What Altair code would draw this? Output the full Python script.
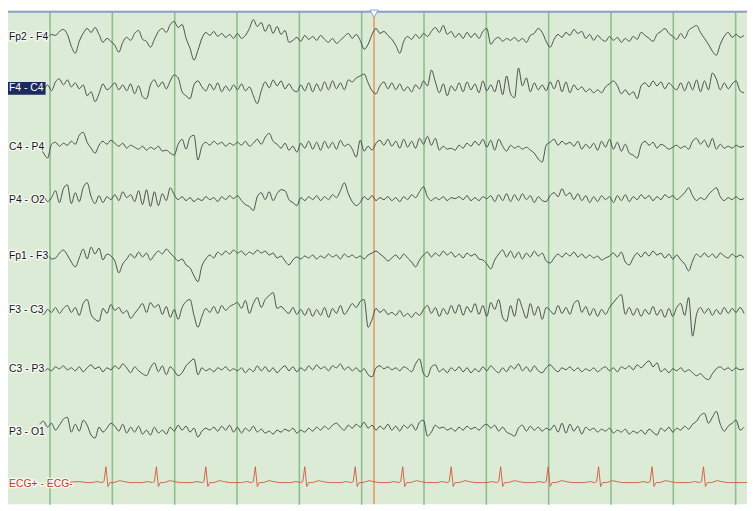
import altair as alt
import pandas as pd

# ---------------- data ----------------
channels = ["Fp2 - F4", "F4 - C4", "C4 - P4", "P4 - O2",
            "Fp1 - F3", "F3 - C3", "C3 - P3", "P3 - O1"]
ecg_label = "ECG+ - ECG-"

sample_start = 40
sample_step = 4

fp2_f4 = [0,2,-1,2,1,5,7,2,-10,-17,
          -5,3,8,4,9,2,-6,-2,-5,-9,
          -16,-6,-1,-4,3,6,-3,-5,-11,-3,
          5,8,4,12,15,9,12,-2,-12,-24,
          -14,-2,4,1,5,0,3,-1,2,-2,
          3,-2,1,8,17,10,14,5,12,3,
          10,2,6,-6,-4,-1,-5,1,-3,0,
          -4,1,-3,-6,-2,-7,-4,0,3,-2,
          2,-4,-13,-8,2,8,3,5,1,-3,
          -9,-17,-5,0,-3,2,-2,3,0,5,
          9,4,11,2,5,-1,3,-2,4,-1,
          3,-2,5,8,-8,-3,-1,-5,-2,-4,
          -1,-5,-2,-6,1,3,8,4,-5,-11,
          -3,2,-1,4,1,7,3,5,-2,2,
          -4,1,-3,-5,0,-4,-1,-6,-2,-5,
          0,-3,4,1,-2,-5,2,5,8,3,
          0,-3,3,-2,6,9,11,4,-2,-8,
          -15,-19,-8,0,4,-1,2,-1,1]

f4_c4 = [2,-1,3,-3,6,9,3,8,1,5,
         -1,3,-8,-4,-14,-6,4,-2,1,5,
         -2,3,-3,4,-6,2,-9,-11,3,8,
         1,6,-1,7,13,10,-4,-8,-11,3,
         7,1,-3,4,-2,5,-4,2,-3,3,
         -2,4,-3,1,-8,-16,-3,6,0,8,
         2,7,-1,4,-2,-4,3,-3,5,-4,
         4,-3,6,-2,7,-1,5,-2,8,6,
         10,12,14,5,-3,-6,2,6,-1,5,
         -2,4,-3,1,-4,3,-1,7,2,18,
         6,-5,4,-8,2,-3,5,-4,6,-2,
         4,-5,7,-3,3,-4,8,-7,12,-6,
         -10,20,2,10,-4,5,-2,3,-3,6,
         -1,8,-4,6,-5,3,-2,1,-4,-1,
         -5,-2,-5,1,4,7,2,-6,-2,-7,
         -4,-11,2,5,1,7,2,6,-1,5,
         1,-2,5,-3,6,-2,8,-4,7,-2,
         15,9,-2,5,-1,4,7,-3,-5]

c4_p4 = [2,-6,-11,3,5,1,4,2,6,3,
         12,15,5,-1,-6,2,6,3,7,4,
         1,4,-1,2,0,-2,1,-3,0,-2,
         1,-4,-3,-6,-8,3,8,-2,10,12,
         -13,1,5,2,6,3,5,1,4,2,
         5,2,6,1,4,8,3,10,14,6,
         3,-1,4,-3,1,-5,4,-1,6,-2,
         5,-3,6,-1,5,-2,7,1,3,-2,
         -10,7,-4,1,-3,4,7,2,8,1,
         6,-1,8,0,6,-1,9,3,11,2,
         9,-3,1,-2,-1,-3,2,-1,4,1,
         6,2,8,0,7,-3,8,1,-4,2,
         -1,1,-2,0,-3,-6,-12,-15,2,5,
         8,2,6,3,5,1,6,-2,3,-1,
         4,-3,6,0,8,-2,5,-4,3,-6,
         -8,-11,2,6,2,5,-1,3,1,-2,
         0,2,-1,1,-2,6,9,3,7,0,
         9,-2,3,-1,1,-1,2,0,1]

p4_o2 = [-1,2,-3,1,8,-4,10,14,-5,6,
         -3,11,16,2,-5,3,-4,2,-1,4,
         -2,7,1,4,-3,8,-6,9,-8,7,
         -7,5,-2,11,4,-1,2,-2,1,-3,
         0,-2,2,-1,1,-3,2,-1,3,0,
         3,-2,-6,-8,-12,2,6,-1,7,-2,
         5,9,8,-1,-4,-7,1,-2,2,-1,
         3,-2,2,-1,4,1,8,16,5,-3,
         -7,-4,2,-1,3,-2,1,-1,2,-2,
         1,-3,2,-1,4,1,7,12,2,-2,
         1,-1,2,-2,1,0,2,-1,3,-2,
         1,-2,2,0,3,-3,4,-2,5,-3,
         4,-2,5,-1,3,-4,2,-2,-3,3,
         6,2,10,3,6,-1,5,-2,3,-4,
         2,-3,3,-1,2,-4,3,-2,4,-3,
         2,-1,4,0,3,-2,2,-1,4,1,
         3,-1,2,6,11,3,-2,1,-1,4,
         8,11,2,-2,1,-1,2,-1,0]

fp1_f3 = [2,-1,1,-3,-2,3,6,1,-6,-11,
          -2,7,-3,9,2,8,-4,2,0,-5,
          -17,-8,-3,2,-2,4,-1,3,-4,1,
          5,2,7,3,-1,-5,-3,-9,-12,-20,
          -26,-10,-3,1,-2,4,1,5,2,6,
          3,5,1,4,2,6,3,5,1,3,
          -2,0,-5,-9,-4,-1,-3,0,-2,1,
          -3,0,-2,2,-1,1,-3,2,-1,1,
          -2,0,-3,1,3,5,2,-1,-5,-2,
          1,-3,2,-2,-6,-11,-4,1,4,-1,
          3,0,5,1,4,-1,2,-2,3,0,
          2,-3,-4,-8,-13,-4,2,6,-1,5,
          -2,4,-3,3,-1,5,0,3,-5,-7,
          -2,2,-1,3,0,4,-1,2,-2,1,
          -2,0,-4,-2,0,3,-1,4,-6,-9,
          -2,3,-1,4,0,5,1,3,-2,2,
          -3,1,-4,-8,-15,-5,2,-1,3,-1,
          2,-2,3,0,-2,2,-1,1,-2]

f3_c3 = [1,-3,2,-1,4,-2,3,6,-1,4,
         -4,8,12,-3,-8,-10,3,-2,7,1,
         4,-2,1,-7,-2,3,8,-1,9,4,
         7,-3,5,-6,2,-8,4,10,12,-4,
         -16,-5,3,-1,5,-2,6,1,5,7,
         9,3,11,-2,8,14,4,12,16,19,
         3,5,1,-2,4,-3,2,-4,3,-5,
         2,-4,4,-6,3,-2,6,-3,2,8,
         4,10,12,-16,-8,3,-1,2,-3,-1,
         -4,1,-5,-2,-6,-1,-4,2,6,-2,
         4,-5,3,-3,6,-2,7,-4,5,-1,
         8,-3,6,-5,9,2,12,-6,-10,6,
         -5,13,3,-7,8,-4,5,-8,4,1,
         -3,6,-2,4,-3,8,11,-1,5,-4,
         3,-5,2,-3,4,9,14,17,-3,4,
         -4,3,-5,2,-3,5,-4,2,-6,3,
         -5,4,8,-4,14,-25,-3,4,-2,3,
         -4,2,-3,4,-2,3,-1,4,-2]

c3_p3 = [0,-2,1,-1,3,1,4,0,2,-1,
         3,-2,2,5,1,3,-2,2,0,4,
         1,6,2,-3,3,-1,-4,-6,2,7,
         -2,4,-5,3,-1,-6,-3,4,8,11,
         -5,2,-1,1,-2,2,0,3,-1,1,
         -1,2,-3,1,-2,4,-1,3,-2,2,
         -3,1,4,-1,3,-2,2,-1,4,0,
         5,1,3,-1,4,2,6,0,3,-1,
         2,-2,1,-5,-7,2,4,1,3,0,
         2,-1,3,1,-2,6,11,-4,-7,3,
         5,-2,1,-3,2,-1,3,-2,2,-3,
         1,-2,3,-1,4,0,-3,2,-2,4,
         1,6,-1,3,-2,4,-1,-3,2,5,
         1,-2,2,0,3,-1,2,-2,1,-1,
         2,-2,1,3,-1,2,-2,3,1,4,
         0,5,2,6,9,3,7,-2,1,-3,
         1,-1,2,-2,0,-3,-6,-4,-8,-10,
         -4,1,3,0,2,-1,2,0,1]

p3_o1 = [5,8,2,6,-1,4,10,12,-3,5,
         -2,9,4,-6,-9,2,-3,1,6,3,
         -2,5,-4,2,-3,3,-5,-1,-6,2,
         -4,-1,-5,2,-2,4,-1,3,-3,1,
         -8,-2,1,-1,2,-2,3,-1,4,-3,
         2,-4,1,-2,3,-3,0,-4,-2,-5,
         -1,-3,0,-2,1,-4,-1,-3,1,-2,
         2,-1,3,0,4,6,2,-1,4,1,
         5,2,7,1,4,-1,3,0,5,-1,
         3,-2,4,1,5,-1,7,9,-7,-3,
         4,1,2,-1,1,-2,2,-1,3,0,
         2,-1,3,5,1,4,-2,2,-3,-5,
         -7,1,4,-2,3,-1,2,-2,1,-1,
         4,-3,6,-4,5,-2,3,-5,2,-1,
         1,-3,0,-2,1,-4,-1,-3,0,-5,
         -2,-4,-1,-5,0,-3,-6,1,-2,2,
         -3,1,-1,3,0,5,8,14,16,6,
         12,18,5,-2,3,6,9,-1,2]

ecg_start, ecg_end = 66, 755
ecg_beats = [107, 158, 208, 258, 308, 359, 407, 456, 506, 554, 605, 659, 711]
ecg_shape_dx = [-14, -9, -4, -2, 0, 2, 4, 8, 14, 18, 24]
ecg_shape_amp = [0, 1, 0, 1, 16, -4, 0, 0, 2, 1, 0]

second_marks = [50, 113, 176, 239, 302, 365, 428, 491, 554, 617, 680, 743]
cursor_x = 378

# ---------------- layout / style ----------------
traces = [fp2_f4, f4_c4, c4_p4, p4_o2, fp1_f3, f3_c3, c3_p3, p3_o1]
baselines = [34, 86, 146, 198, 256, 312, 371, 431]
ecg_base = 485
label_y = [35, 86, 146, 199, 256, 311, 370, 434]

rows = []
for name, vals, base in zip(channels, traces, baselines):
    for i, v in enumerate(vals):
        rows.append({"channel": name, "x": sample_start + i * sample_step, "y": base - v})
eeg = pd.DataFrame(rows)

ecg_rows = [{"x": ecg_start, "y": ecg_base}, {"x": 80, "y": ecg_base - 1}, {"x": 88, "y": ecg_base}]
for b in ecg_beats:
    for dx, a in zip(ecg_shape_dx, ecg_shape_amp):
        ecg_rows.append({"x": b + dx, "y": ecg_base - a})
ecg_rows.append({"x": ecg_end, "y": ecg_base})
ecg = pd.DataFrame(ecg_rows)

labels = pd.DataFrame({"label": channels + [ecg_label],
                       "x": [9] * 9,
                       "y": label_y + [486],
                       "color": ["#141414"] * 8 + ["#c8321e"]})
labels.loc[1, "color"] = "#ffffff"

X = alt.X("x:Q", scale=alt.Scale(domain=[8, 755], nice=False, zero=False),
          axis=alt.Axis(values=second_marks, grid=True, labels=False, ticks=False,
                        domain=False, title=None, gridColor="#8cbf8c", gridWidth=1.6,
                        gridOpacity=1))
Y = alt.Y("y:Q", scale=alt.Scale(domain=[8, 507], nice=False, zero=False, reverse=True),
          axis=None)

eeg_layer = alt.Chart(eeg).mark_line(color="#3c3c3c", strokeWidth=0.9,
                                     interpolate="monotone").encode(
    x=X, y=Y, detail="channel:N", order="x:Q")

ecg_layer = alt.Chart(ecg).mark_line(color="#d0583c", strokeWidth=0.9).encode(
    x=X, y=Y, order="x:Q")

cursor = alt.Chart(pd.DataFrame({"x": [cursor_x]})).mark_rule(
    color="#e8986c", strokeWidth=1.6).encode(x=X)

top_border = alt.Chart(pd.DataFrame({"y": [9]})).mark_rule(
    color="#8f9ccc", strokeWidth=2).encode(y=Y)

notch = alt.Chart(pd.DataFrame({"x": [cursor_x], "y": [11]})).mark_point(
    shape="triangle-down", size=70, filled=True, fill="#ffffff",
    stroke="#8f9ccc", strokeWidth=1, opacity=1).encode(x=X, y=Y)

sel_box = alt.Chart(pd.DataFrame({"x": [8], "x2": [46], "y": [80], "y2": [93]})).mark_rect(
    color="#1c2b5e").encode(x=X, x2="x2:Q", y=Y, y2="y2:Q")

halo = alt.Chart(labels.drop(index=1)).mark_text(
    align="left", baseline="middle", font="Liberation Sans", fontSize=10.5,
    stroke="#ffffff", strokeWidth=2.5, strokeOpacity=0.8, fill="#ffffff").encode(
    x=X, y=Y, text="label:N")

text = alt.Chart(labels).mark_text(
    align="left", baseline="middle", font="Liberation Sans", fontSize=10.5).encode(
    x=X, y=Y, text="label:N", color=alt.Color("color:N", scale=None))

chart = alt.layer(cursor, eeg_layer, ecg_layer, top_border, notch, sel_box, halo, text).properties(
    width=747, height=499, padding=0,
    autosize=alt.AutoSizeParams(type="none"),
    background="#ffffff",
).configure_view(stroke=None, fill="#dcebd6")

chart.save("out.html", embed_options={"renderer": "svg", "actions": False})
